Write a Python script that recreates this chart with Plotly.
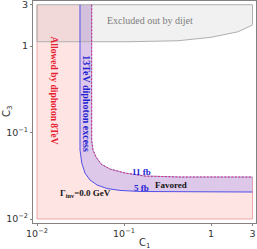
import plotly.graph_objects as go

# 5 fb (inner) boundary of the 13 TeV diphoton excess band
c1_5fb = [0.0312, 0.0312, 0.0327, 0.0356, 0.0407, 0.0490, 0.0638, 0.0899, 0.153, 3.0]
c3_5fb = [3.0, 0.0628, 0.0444, 0.0340, 0.0282, 0.0247, 0.0225, 0.0214, 0.0208, 0.0205]
# 11 fb (outer) boundary, also edge of the 8 TeV allowed region
c1_11fb = [0.0425, 0.0425, 0.0440, 0.0477, 0.0544, 0.0690, 0.103, 0.174, 0.44, 3.0]
c3_11fb = [3.0, 0.0819, 0.0628, 0.0521, 0.0432, 0.0378, 0.0340, 0.0314, 0.0306, 0.0306]
# lower boundary of the dijet-excluded region
c1_dijet = [0.01, 0.111, 0.418, 1.0, 2.04, 2.88, 3.0]
c3_dijet = [1.12, 1.12, 1.15, 1.26, 1.46, 1.70, 1.75]
c_min, c_max = 0.01, 3.0

tick_vals = [0.01, 0.1, 1, 3]
tick_text = ["10<sup>−2</sup>", "10<sup>−1</sup>", "1", "3"]

serif = "Liberation Serif"
fig = go.Figure()

# allowed by diphoton 8 TeV (pink)
fig.add_trace(go.Scatter(
    x=[c_min, c_min] + c1_11fb + [c_max, c_min],
    y=[c_min, c_max] + c3_11fb + [c_min, c_min],
    fill="toself", fillcolor="rgba(255,0,0,0.105)", mode="none"))
fig.add_trace(go.Scatter(
    x=[c_max, c_max, c_min, c_min], y=[c3_11fb[-1], c_min, c_min, c_max],
    mode="lines", line=dict(color="rgba(235,150,150,0.8)", width=1)))

# favored band (purple)
fig.add_trace(go.Scatter(
    x=c1_11fb + c1_5fb[::-1], y=c3_11fb + c3_5fb[::-1],
    fill="toself", fillcolor="rgba(90,90,255,0.2)", mode="none"))

# dijet excluded (gray)
fig.add_trace(go.Scatter(
    x=c1_dijet + [c_max, c_min, c_min], y=c3_dijet + [c_max, c_max, c3_dijet[0]],
    fill="toself", fillcolor="rgba(128,128,128,0.11)", mode="lines",
    line=dict(color="rgb(175,175,175)", width=1)))

# boundary lines
fig.add_trace(go.Scatter(x=c1_5fb, y=c3_5fb, mode="lines",
                         line=dict(color="rgb(80,80,230)", width=1)))
fig.add_trace(go.Scatter(x=c1_11fb, y=c3_11fb, mode="lines",
                         line=dict(color="rgb(120,110,230)", width=0.6)))
fig.add_trace(go.Scatter(x=c1_11fb, y=c3_11fb, mode="lines",
                         line=dict(color="rgb(205,40,110)", width=1, dash="2px,1.5px")))

def px2x(p):
    return -2 + (p - 37) / 87.0
def px2y(p):
    return -2 + (219 - p) / 86.5

def ann(text, x, y, color, size=9.5, angle=0):
    fig.add_annotation(text=text, x=x, y=y, xref="x", yref="y", showarrow=False,
                       textangle=angle, font=dict(family=serif, size=size, color=color),
                       xanchor="center", yanchor="middle")

ann("Excluded out by dijet", px2x(150), px2y(20.5), "rgb(125,125,125)", 10)
ann("<b>Allowed by diphoton 8TeV</b>", px2x(53.5), px2y(90), "rgb(230,30,50)", 9.5, 90)
ann("<b>13TeV diphoton excess</b>", px2x(86.3), px2y(103.5), "rgb(30,30,210)", 10, 90)
ann("<b>11 fb</b>", px2x(141), px2y(172), "rgb(30,30,210)", 9)
ann("<b>5 fb</b>", px2x(141), px2y(187.5), "rgb(30,30,210)", 9)
ann("<b>Favored</b>", px2x(171), px2y(184.5), "rgb(20,20,20)", 9)
ann("<b>Γ<sub>inv</sub>=0.0 GeV</b>", px2x(85), px2y(193), "rgb(20,20,20)", 9)

fig.add_annotation(text="C<sub>1</sub>", xref="paper", yref="paper", x=0.5, y=0,
                   yshift=-20, showarrow=False, yanchor="middle",
                   font=dict(family="DejaVu Sans", size=10, color="#333"))
fig.add_annotation(text="C<sub>3</sub>", xref="paper", yref="paper", x=0, y=0.5,
                   xshift=-26, showarrow=False, xanchor="center", textangle=-90,
                   font=dict(family="DejaVu Sans", size=10, color="#333"))

axis_common = dict(type="log", tickvals=tick_vals, ticktext=tick_text,
                   showgrid=False, zeroline=False, showline=True, mirror=True,
                   linecolor="rgb(130,130,130)", linewidth=1, ticks="outside",
                   ticklen=2, tickcolor="rgb(130,130,130)", automargin=False,
                   ticklabeloverflow="allow",
                   tickfont=dict(family="DejaVu Sans", size=9.5, color="#333"))
fig.update_xaxes(range=[px2x(33), px2x(256)], **axis_common)
fig.update_yaxes(range=[px2y(223), px2y(1)], **axis_common)

fig.update_layout(width=257, height=249, margin=dict(l=33, r=1, t=1, b=26),
                  paper_bgcolor="white", plot_bgcolor="white",
                  showlegend=False, hovermode=False)
fig.write_html("out.html", config={"displayModeBar": False},
               post_script="document.body.style.margin='0';document.body.style.overflow='hidden';")
